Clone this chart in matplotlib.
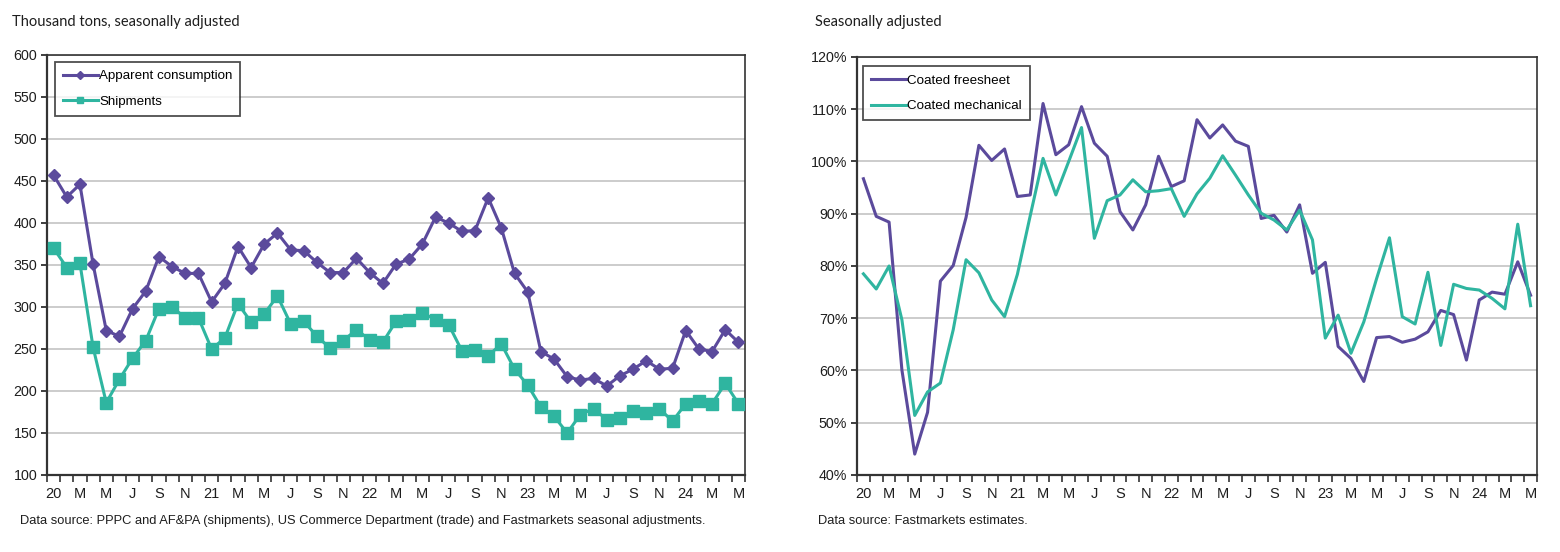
import matplotlib
matplotlib.use("Agg")
import matplotlib.pyplot as plt
from matplotlib.ticker import FixedLocator, PercentFormatter

# month labels, Jan 2020 .. May 2024 (labelled every other month)
month_labels = ["20", "M", "M", "J", "S", "N", "21", "M", "M", "J", "S", "N",
                "22", "M", "M", "J", "S", "N", "23", "M", "M", "J", "S", "N",
                "24", "M", "M"]

# left chart, thousand tons
apparent_consumption = [457, 431, 446, 351, 272, 265, 298, 319, 360, 348, 340, 340,
                        306, 328, 372, 347, 375, 388, 368, 367, 353, 341, 341, 358,
                        341, 328, 351, 357, 375, 407, 400, 390, 391, 430, 394, 340,
                        318, 247, 238, 217, 213, 215, 206, 218, 226, 236, 226, 227,
                        272, 250, 247, 273, 258]
shipments = [370, 347, 352, 252, 186, 214, 239, 260, 298, 300, 287, 287,
             250, 263, 304, 282, 292, 313, 280, 283, 265, 251, 260, 273,
             261, 258, 283, 285, 293, 285, 279, 248, 249, 242, 256, 226,
             207, 181, 170, 150, 172, 179, 166, 168, 176, 174, 179, 164,
             185, 188, 185, 209, 185]

# right chart, percent
coated_freesheet = [96.7, 89.5, 88.4, 60.1, 44.0, 52.0, 77.1, 80.1, 89.3, 103.1, 100.2, 102.4,
                    93.3, 93.6, 111.1, 101.3, 103.2, 110.5, 103.5, 101.0, 90.4, 86.9, 91.7, 101.0,
                    95.2, 96.3, 108.0, 104.5, 107.0, 103.9, 102.9, 89.1, 89.7, 86.5, 91.7, 78.6,
                    80.7, 64.6, 62.3, 57.9, 66.3, 66.5, 65.4, 66.0, 67.4, 71.5, 70.7, 62.0,
                    73.5, 75.0, 74.6, 80.8, 74.4]
coated_mechanical = [78.5, 75.6, 80.0, 69.7, 51.4, 55.9, 57.6, 67.8, 81.2, 78.7, 73.5, 70.3,
                     78.4, 89.6, 100.6, 93.6, 100.0, 106.5, 85.3, 92.5, 93.6, 96.5, 94.2, 94.4,
                     94.8, 89.5, 93.8, 96.8, 101.1, 97.4, 93.6, 90.1, 88.8, 86.9, 90.7, 85.0,
                     66.2, 70.6, 63.3, 69.3, 77.6, 85.4, 70.3, 68.9, 78.8, 64.8, 76.5, 75.7,
                     75.4, 73.8, 71.8, 88.0, 72.4]

PURPLE = "#5b4a9c"
TEAL = "#2fb5a0"
GRID = "#c8c8c8"
TXT = "#1e1e1e"

plt.rcParams["font.family"] = ["Liberation Sans", "DejaVu Sans"]

fig = plt.figure(figsize=(15.6, 5.52), dpi=100)
fig.patch.set_facecolor("white")

ax1 = fig.add_axes([47 / 1560, 77 / 552, 698 / 1560, 420 / 552])
ax2 = fig.add_axes([857 / 1560, 77 / 552, 680 / 1560, 418 / 552])

n = len(apparent_consumption)
x = list(range(n))


def style_axis(ax):
    ax.set_xlim(-0.5, n - 0.5)
    # labels on every other month, tick marks between months
    ax.xaxis.set_major_locator(FixedLocator(list(range(0, n, 2))))
    ax.set_xticklabels(month_labels)
    ax.xaxis.set_minor_locator(FixedLocator([i - 0.5 for i in range(n + 1)]))
    ax.tick_params(axis="x", which="major", length=0, pad=9, labelsize=10.5, colors=TXT)
    ax.tick_params(axis="x", which="minor", length=5, width=1.2, direction="out", color="#333333")
    ax.tick_params(axis="y", length=4, width=1.2, direction="out", labelsize=10.3,
                   colors=TXT, pad=3)
    ax.grid(axis="y", color=GRID, linewidth=1.3)
    ax.set_axisbelow(True)
    for side in ["left", "bottom"]:
        ax.spines[side].set_color("#333333")
        ax.spines[side].set_linewidth(1.6)
    for side in ["top", "right"]:
        ax.spines[side].set_color("#333333")
        ax.spines[side].set_linewidth(1.2)


def boxed_legend(ax, anchor, **kw):
    leg = ax.legend(loc="upper left", bbox_to_anchor=anchor, borderaxespad=0, frameon=True,
                    fancybox=False, edgecolor="#222222", fontsize=9.6, handlelength=2.6,
                    handletextpad=0.1, borderpad=0.6, labelspacing=1.0, **kw)
    leg.get_frame().set_linewidth(1.3)
    return leg


# left chart
ax1.plot(x, apparent_consumption, color=PURPLE, linewidth=2.2, marker="D",
         markersize=6.5, label="Apparent consumption", zorder=3)
ax1.plot(x, shipments, color=TEAL, linewidth=2.2, marker="s",
         markersize=8, label="Shipments", zorder=3)
ax1.set_ylim(100, 600)
ax1.set_yticks(range(100, 601, 50))
style_axis(ax1)
boxed_legend(ax1, (0.0115, 0.983), markerscale=0.6)

# right chart
ax2.plot(x, coated_freesheet, color=PURPLE, linewidth=2.2, label="Coated freesheet", zorder=3)
ax2.plot(x, coated_mechanical, color=TEAL, linewidth=2.2, label="Coated mechanical", zorder=3)
ax2.set_ylim(40, 120)
ax2.set_yticks(range(40, 121, 10))
ax2.yaxis.set_major_formatter(PercentFormatter(decimals=0))
style_axis(ax2)
boxed_legend(ax2, (0.0088, 0.978))

# subtitles and sources
fig.text(12 / 1560, 1 - 22 / 552, "Thousand tons, seasonally adjusted", fontsize=10.5,
         family=["Lato", "DejaVu Sans"], color=TXT, va="center")
fig.text(815 / 1560, 1 - 22 / 552, "Seasonally adjusted", fontsize=10.5,
         family=["Lato", "DejaVu Sans"], color=TXT, va="center")
fig.text(20 / 1560, 1 - 521 / 552,
         "Data source: PPPC and AF&PA (shipments), US Commerce Department (trade) and Fastmarkets seasonal adjustments.",
         fontsize=9.3, color=TXT, va="center")
fig.text(818 / 1560, 1 - 521 / 552, "Data source: Fastmarkets estimates.",
         fontsize=9.3, color=TXT, va="center")

fig.savefig("out.png", dpi=100, facecolor="white")
plt.close(fig)
